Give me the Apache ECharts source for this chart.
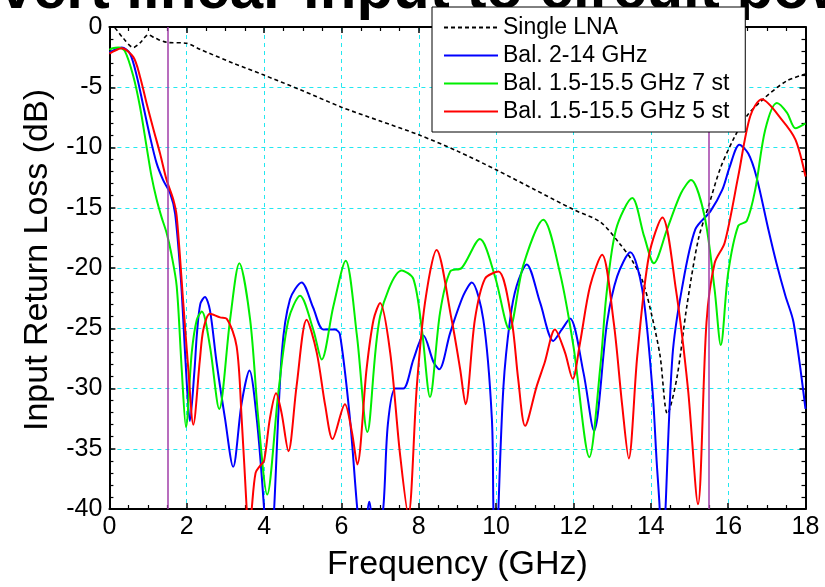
<!DOCTYPE html>
<html>
<head>
<meta charset="utf-8">
<script src="https://cdn.jsdelivr.net/npm/echarts@6/dist/echarts.min.js"></script>
<style>
html,body{margin:0;padding:0;background:#fff;}
#chart{width:825px;height:587px;}
</style>
</head>
<body>
<div id="chart"></div>
<script>
// ---- data (frequency in GHz, input return loss in dB) ----
const seriesNames = ['Single LNA', 'Bal. 2-14 GHz', 'Bal. 1.5-15.5 GHz 7 st', 'Bal. 1.5-15.5 GHz 5 st'];

const lnaF = [0, 0.15, 0.35, 0.62, 0.8, 1.0, 1.2, 1.48, 2.0, 2.34, 3.2, 3.98, 4.93, 6.0, 7.0, 8.0, 9.0, 10.0, 11.0, 12.0, 12.7, 13.2, 13.54, 13.8, 14.03, 14.24, 14.43, 14.67, 14.93, 15.23, 15.49, 15.79, 16.13, 16.48, 16.9, 17.5, 18.0];
const lnaV = [0.3, -0.1, -0.9, -1.7, -1.3, -0.66, -0.95, -1.27, -1.35, -1.85, -3.0, -3.97, -5.2, -6.65, -7.8, -8.95, -10.3, -11.85, -13.5, -15.15, -16.2, -18.0, -19.5, -21.2, -24.0, -27.3, -32.1, -29.2, -23.2, -17.6, -14.9, -11.8, -9.35, -7.4, -6.0, -4.5, -3.9];

const blueF = [0.0, 0.06, 0.32, 0.53, 0.71, 0.88, 1.05, 1.22, 1.39, 1.57, 1.70, 1.85, 1.91, 2.0, 2.08, 2.2, 2.26, 2.35, 2.47, 2.6, 2.77, 2.99, 3.2, 3.42, 3.62, 3.81, 4.0, 4.1, 4.16, 4.26, 4.46, 4.67, 4.97, 5.27, 5.53, 5.83, 5.96, 6.22, 6.41, 6.55, 6.72, 6.88, 7.08, 7.2, 7.39, 7.6, 7.86, 8.12, 8.38, 8.53, 8.81, 9.15, 9.37, 9.67, 9.89, 9.93, 10.0, 10.06, 10.19, 10.36, 10.53, 10.79, 11.14, 11.48, 11.7, 11.91, 12.26, 12.53, 12.87, 13.13, 13.47, 13.78, 14.04, 14.15, 14.23, 14.3, 14.38, 14.56, 14.8, 15.15, 15.54, 15.85, 16.04, 16.29, 16.52, 16.73, 17.04, 17.25, 17.48, 17.69, 18.0];
const blueV = [-2.1, -2.0, -1.71, -2.2, -4.1, -6.6, -9.1, -11.3, -12.7, -13.8, -15.5, -21.0, -24.3, -29.5, -32.7, -28.5, -25.6, -23.0, -22.4, -23.5, -27.8, -32.5, -36.5, -31.2, -28.5, -32.5, -40.0, -46.0, -46.0, -40.0, -27.0, -22.6, -21.2, -23.3, -25.1, -25.1, -25.5, -32.5, -40.0, -44.0, -39.4, -44.0, -40.0, -33.0, -30.0, -30.0, -27.6, -25.6, -27.8, -28.4, -25.4, -22.3, -21.2, -24.3, -32.5, -40.0, -48.0, -40.0, -29.8, -24.3, -21.5, -19.7, -22.9, -26.05, -25.1, -24.2, -28.7, -33.5, -24.5, -20.7, -18.7, -21.8, -30.0, -36.0, -40.0, -47.0, -40.0, -27.3, -21.8, -16.8, -15.3, -13.5, -11.6, -9.77, -10.5, -12.4, -16.8, -19.6, -22.3, -24.5, -31.7];

const greenF = [0.0, 0.08, 0.23, 0.4, 0.62, 0.79, 0.96, 1.09, 1.22, 1.35, 1.48, 1.6, 1.74, 1.87, 1.98, 2.13, 2.26, 2.39, 2.6, 2.84, 3.12, 3.36, 3.64, 3.85, 4.08, 4.37, 4.63, 4.93, 5.27, 5.49, 5.79, 6.11, 6.4, 6.67, 7.0, 7.56, 7.86, 8.08, 8.29, 8.55, 8.81, 9.11, 9.58, 9.97, 10.34, 10.7, 11.22, 11.65, 12.0, 12.41, 12.7, 12.85, 13.1, 13.52, 13.83, 14.08, 14.42, 14.78, 15.04, 15.39, 15.65, 15.81, 16.0, 16.26, 16.48, 16.7, 16.96, 17.26, 17.52, 17.74, 18.0];
const greenV = [-1.9, -1.77, -1.71, -2.0, -4.1, -6.6, -9.9, -12.4, -14.3, -15.8, -17.1, -18.8, -21.5, -28.4, -33.2, -27.0, -24.3, -23.6, -26.5, -31.7, -24.3, -19.6, -24.3, -32.5, -38.8, -30.3, -24.3, -22.3, -25.1, -27.6, -23.2, -19.4, -25.6, -33.6, -24.0, -20.2, -20.9, -25.1, -30.7, -23.7, -20.3, -20.0, -17.6, -20.7, -25.1, -19.8, -16.0, -20.4, -26.5, -35.7, -28.0, -22.3, -16.8, -14.2, -17.4, -19.6, -16.8, -13.8, -12.7, -15.7, -21.8, -26.4, -20.4, -16.5, -16.1, -13.5, -8.5, -6.3, -7.1, -8.4, -8.0];

const redF = [0.0, 0.06, 0.32, 0.62, 0.79, 0.96, 1.14, 1.31, 1.48, 1.65, 1.74, 1.91, 2.04, 2.17, 2.34, 2.43, 2.6, 2.86, 3.03, 3.29, 3.42, 3.55, 3.6, 3.68, 3.78, 3.9, 4.0, 4.15, 4.31, 4.45, 4.63, 4.84, 5.1, 5.36, 5.58, 5.77, 6.09, 6.27, 6.41, 6.65, 6.83, 7.0, 7.26, 7.51, 7.73, 7.95, 8.16, 8.46, 8.85, 9.07, 9.21, 9.45, 9.71, 10.06, 10.4, 10.57, 10.75, 11.05, 11.26, 11.52, 11.78, 11.98, 12.17, 12.43, 12.74, 13.04, 13.26, 13.43, 13.65, 13.95, 14.3, 14.65, 14.96, 15.22, 15.44, 15.65, 15.91, 16.26, 16.57, 16.87, 17.39, 17.74, 18.0];
const redV = [-2.2, -2.1, -1.77, -2.5, -4.1, -6.3, -8.5, -10.5, -12.7, -14.3, -15.7, -22.9, -28.4, -33.0, -27.6, -25.1, -23.8, -24.1, -24.2, -26.5, -32.5, -40.0, -43.0, -40.0, -37.0, -36.4, -36.0, -32.5, -30.4, -32.0, -35.2, -29.8, -24.3, -27.0, -31.4, -34.2, -31.3, -33.6, -36.3, -28.4, -24.3, -22.9, -27.0, -35.3, -40.5, -29.8, -22.9, -18.5, -24.3, -28.4, -31.3, -24.3, -20.9, -20.3, -24.3, -29.2, -33.1, -29.8, -27.8, -25.1, -27.0, -29.2, -26.2, -21.5, -18.9, -24.5, -31.4, -35.8, -27.3, -19.0, -15.8, -21.8, -30.0, -39.6, -24.5, -19.6, -17.9, -12.4, -7.4, -6.0, -7.7, -9.35, -12.4];

const bandEdges = [1.5, 15.5];
const xTicks = [0, 2, 4, 6, 8, 10, 12, 14, 16, 18];
const yTicks = [0, -5, -10, -15, -20, -25, -30, -35, -40];

const zip = (f, v) => f.map((x, i) => [x, v[i]]);

const FONT = '"Liberation Sans", Arial, sans-serif';
const chart = echarts.init(document.getElementById('chart'), null, {renderer: 'canvas'});

const baseAxis = {
  type: 'value',
  axisLine: {onZero: false, lineStyle: {color: '#000', width: 2}},
  axisTick: {inside: true, length: 6, lineStyle: {color: '#000', width: 1.5}},
  minorTick: {show: true, length: 4, lineStyle: {color: '#000', width: 1.2}},
};

const colors = ['#000000', '#0000ff', '#00ee00', '#ff0000'];

const option = {
  animation: false,
  backgroundColor: '#ffffff',
  textStyle: {fontFamily: FONT},
  graphic: [{
    type: 'text',
    x: -117, y: -9,
    z: 0, zlevel: 0,
    style: {
      text: 'Convert linear input to circuit power',
      font: 'bold 60px ' + FONT,
      fill: '#000',
      textAlign: 'left',
      verticalAlign: 'middle'
    }
  }],
  grid: {left: 109.4, right: 19.5, top: 27, bottom: 77, containLabel: false},
  legend: {
    orient: 'vertical',
    left: 432, top: 7,
    itemWidth: 54, itemHeight: 14, itemGap: 5,
    padding: [9, 16, 9, 11],
    backgroundColor: '#ffffff',
    borderColor: '#000', borderWidth: 1,
    itemStyle: {opacity: 0},
    textStyle: {fontSize: 23, color: '#000', fontFamily: FONT, lineHeight: 23},
    data: seriesNames,
    z: 50
  },
  xAxis: [
    Object.assign({}, baseAxis, {
      min: 0, max: 18, interval: 2, position: 'bottom',
      minorTick: Object.assign({}, baseAxis.minorTick, {splitNumber: 4}),
      axisLabel: {fontSize: 25, color: '#000', margin: 6, fontFamily: FONT,
        formatter: v => xTicks.includes(v) ? String(v) : ''},
      splitLine: {show: true, lineStyle: {color: '#22e8f0', type: [4, 4], width: 1}},
      name: 'Frequency (GHz)', nameLocation: 'middle', nameGap: 39,
      nameTextStyle: {fontSize: 34, color: '#000', fontFamily: FONT}
    }),
    Object.assign({}, baseAxis, {
      min: 0, max: 18, interval: 2, position: 'top',
      minorTick: Object.assign({}, baseAxis.minorTick, {splitNumber: 4}),
      axisLabel: {show: false}, splitLine: {show: false}
    })
  ],
  yAxis: [
    Object.assign({}, baseAxis, {
      min: -40, max: 0, interval: 5, position: 'left',
      minorTick: Object.assign({}, baseAxis.minorTick, {splitNumber: 5}),
      axisLabel: {fontSize: 25, color: '#000', margin: 7, fontFamily: FONT,
        formatter: v => yTicks.includes(v) ? String(v) : ''},
      splitLine: {show: true, lineStyle: {color: '#22e8f0', type: [4, 4], width: 1}},
      name: 'Input Return Loss (dB)', nameLocation: 'middle', nameGap: 55,
      nameTextStyle: {fontSize: 34, color: '#000', fontFamily: FONT, padding: [0, 0, 0, 16]}
    }),
    Object.assign({}, baseAxis, {
      min: -40, max: 0, interval: 5, position: 'right',
      minorTick: Object.assign({}, baseAxis.minorTick, {splitNumber: 5}),
      axisLabel: {show: false}, splitLine: {show: false}
    })
  ],
  series: [
    {
      name: seriesNames[0], type: 'line', data: zip(lnaF, lnaV),
      symbol: 'none', smooth: 0.3, clip: true,
      lineStyle: {color: colors[0], width: 1.6, type: [4, 3]},
      itemStyle: {color: colors[0]},
      markLine: {
        silent: true, symbol: 'none', label: {show: false},
        lineStyle: {color: '#a03ca8', width: 1.5, type: 'solid'},
        data: bandEdges.map(x => ({xAxis: x}))
      }
    },
    {
      name: seriesNames[1], type: 'line', data: zip(blueF, blueV),
      symbol: 'none', smooth: 0.3, clip: true,
      lineStyle: {color: colors[1], width: 2},
      itemStyle: {color: colors[1]}
    },
    {
      name: seriesNames[2], type: 'line', data: zip(greenF, greenV),
      symbol: 'none', smooth: 0.3, clip: true,
      lineStyle: {color: colors[2], width: 2},
      itemStyle: {color: colors[2]}
    },
    {
      name: seriesNames[3], type: 'line', data: zip(redF, redV),
      symbol: 'none', smooth: 0.3, clip: true,
      lineStyle: {color: colors[3], width: 2},
      itemStyle: {color: colors[3]}
    }
  ]
};
chart.setOption(option);
</script>
</body>
</html>
